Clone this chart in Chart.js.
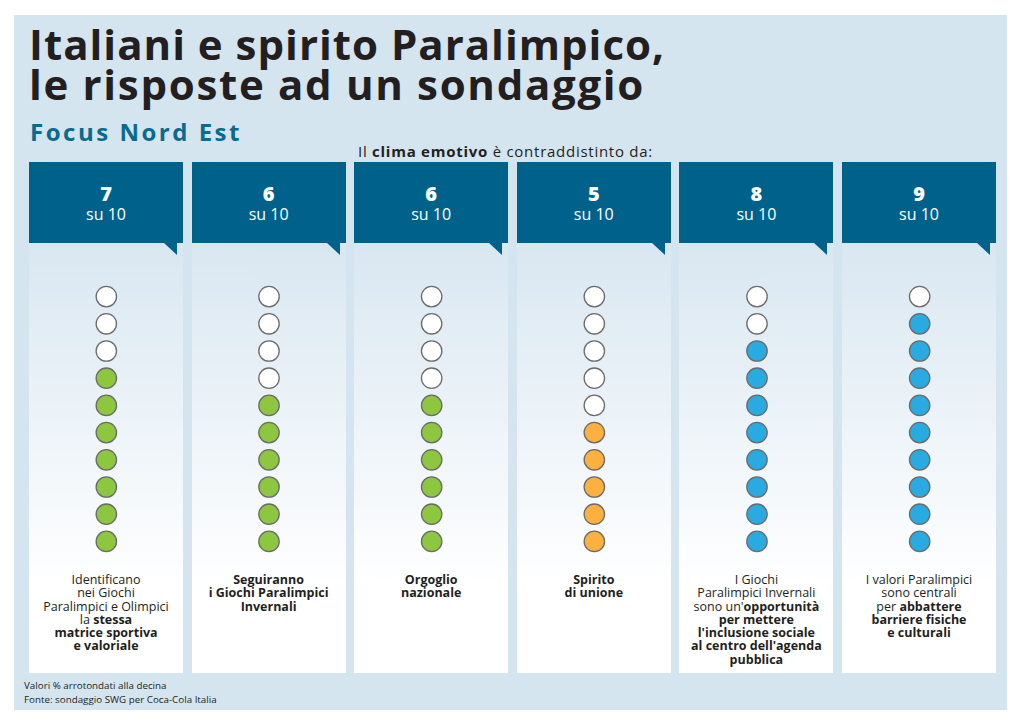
<!DOCTYPE html>
<html lang="it">
<head>
<meta charset="utf-8">
<title>Italiani e spirito Paralimpico</title>
<script src="https://cdn.jsdelivr.net/npm/chart.js@4/dist/chart.umd.min.js"></script>
<style>
    body { margin: 0; width: 1024px; height: 725px; background: #fff; position: relative; overflow: hidden;
           font-family: "Open Sans", "Lato", sans-serif; color: #231f20; }
    #panel { position: absolute; left: 14px; top: 15px; width: 993px; height: 695px; background: #d5e5ef; }
    .title { position: absolute; left: 29px; font-size: 42px; font-weight: 700; line-height: 40px; white-space: nowrap; }
    .focus { position: absolute; left: 30px; top: 115px; font-size: 24px; font-weight: 700; color: #0b6a90; white-space: nowrap; }
    .sub { position: absolute; top: 141px; font-size: 15px; white-space: nowrap; }
    .col { position: absolute; top: 162px; width: 154px; height: 511px; }
    .col .head { position: absolute; left: 0; top: 0; width: 154px; height: 81px; background: #00628b; color: #fff; text-align: center; }
    .col .head .num { font-size: 20px; font-weight: 800; margin-top: 21px; line-height: 22px; }
    .col .head .su { font-size: 16px; line-height: 19px; }
    .col .tail { position: absolute; top: 81px; right: 6px; width: 0; height: 0;
                 border-left: 13px solid transparent; border-top: 12px solid #00628b; }
    .col .body { position: absolute; left: 0; top: 81px; width: 154px; height: 430px;
                 background: linear-gradient(#d9e7f1, #ffffff 80%); }
    .col .desc { position: absolute; left: 0; width: 154px; top: 411px; text-align: center; font-size: 12.5px; line-height: 13.3px; }
    .foot { position: absolute; left: 24px; font-size: 9.8px; }
    #dots { position: absolute; left: 25px; top: 283px; width: 976px; height: 272px; }
</style>
</head>
<body>
<div id="panel"></div>
<div class="title" id="t1" style="top:24px">Italiani e spirito Paralimpico,</div>
<div class="title" id="t2" style="top:64px">le risposte ad un sondaggio</div>
<div class="focus" id="focus">Focus Nord Est</div>
<div class="sub" id="sub">Il <b>clima emotivo</b> è contraddistinto da:</div>
<div id="cols"></div>
<div class="foot" style="top:679px">Valori % arrotondati alla decina</div>
<div class="foot" style="top:693px">Fonte: sondaggio SWG per Coca-Cola Italia</div>
<div id="dots"><canvas id="dot-chart"></canvas></div>

<script>
// values: how many out of ten
const scores = [7, 6, 6, 5, 8, 9];
const outOf = 10;
const fillColors = ["#8dc63f", "#8dc63f", "#8dc63f", "#fbb040", "#29abe2", "#29abe2"];
const descriptions = [
    "Identificano<br>nei Giochi<br>Paralimpici e Olimpici<br>la <b>stessa<br>matrice sportiva<br>e valoriale</b>",
    "<b>Seguiranno<br>i Giochi Paralimpici<br>Invernali</b>",
    "<b>Orgoglio<br>nazionale</b>",
    "<b>Spirito<br>di unione</b>",
    "I Giochi<br>Paralimpici Invernali<br>sono un'<b>opportunità<br>per mettere<br>l'inclusione sociale<br>al centro dell'agenda<br>pubblica</b>",
    "I valori Paralimpici<br>sono centrali<br>per <b>abbattere<br>barriere fisiche<br>e culturali</b>"
];

// stretch a one-line text to the width it has in the original
function fitWidth(id, target) {
    const el = document.getElementById(id);
    const w = el.getBoundingClientRect().width;
    const n = el.textContent.length;
    el.style.letterSpacing = ((target - w) / n) + "px";
}
fitWidth("t1", 636);
fitWidth("t2", 616);
fitWidth("focus", 212);
fitWidth("sub", 295);
document.getElementById("sub").style.left = "358px";

// Build the columns (header + description)
const colsEl = document.getElementById("cols");
scores.forEach((score, i) => {
    const col = document.createElement("div");
    col.className = "col";
    col.style.left = (29 + i * 162.6) + "px";
    col.innerHTML =
        '<div class="body"></div>' +
        '<div class="head"><div class="num">' + score + '</div><div class="su">su ' + outOf + '</div></div>' +
        '<div class="tail"></div>' +
        '<div class="desc">' + descriptions[i] + '</div>';
    colsEl.appendChild(col);
});

// One point per person-out-of-ten, filled when below the score
const filledPoints = [], filledColors = [], emptyPoints = [];
scores.forEach((score, i) => {
    for (let k = 1; k <= outOf; k++) {
        if (k <= score) {
            filledPoints.push({ x: i, y: k });
            filledColors.push(fillColors[i]);
        } else {
            emptyPoints.push({ x: i, y: k });
        }
    }
});

const ctx = document.getElementById("dot-chart").getContext("2d");
new Chart(ctx, {
    type: "scatter",
    data: {
        datasets: [{
            label: "Sì",
            data: filledPoints,
            backgroundColor: filledColors,
            borderColor: "#6b6b6b",
            borderWidth: 1.3,
            pointRadius: 10.2,
            pointHoverRadius: 10.2
        }, {
            label: "No",
            data: emptyPoints,
            backgroundColor: "#ffffff",
            borderColor: "#6b6b6b",
            borderWidth: 1.3,
            pointRadius: 10.2,
            pointHoverRadius: 10.2
        }]
    },
    options: {
        responsive: true,
        maintainAspectRatio: false,
        animation: false,
        layout: { padding: 0, autoPadding: false },
        plugins: {
            legend: { display: false },
            tooltip: { enabled: false }
        },
        scales: {
            x: { type: "linear", min: -0.5, max: scores.length - 0.5, display: false },
            y: { type: "linear", min: 0.5, max: outOf + 0.5, display: false }
        }
    }
});
</script>
</body>
</html>
